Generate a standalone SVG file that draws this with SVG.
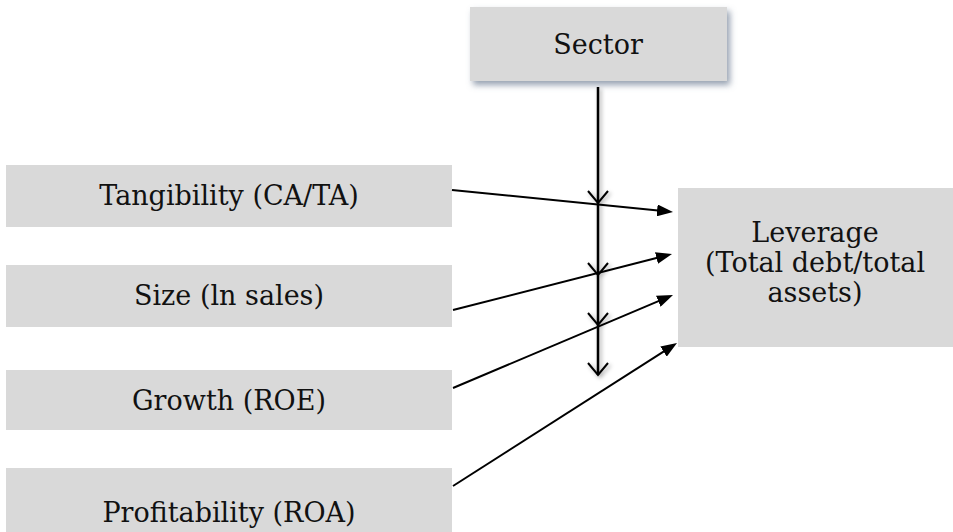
<svg xmlns="http://www.w3.org/2000/svg" width="953" height="532" viewBox="0 0 953 532">
<defs>
<style>
.box{fill:#d9d9d9}
.lbl{font-family:'DejaVu Serif','Liberation Serif',serif;font-size:27px;fill:#111;text-anchor:middle}
.conn{stroke:#000;stroke-width:2;fill:none}
.vhead{stroke:#000;stroke-width:2;fill:none;stroke-linejoin:miter}
</style>
<filter id="shadow" x="-10%" y="-20%" width="130%" height="160%">
<feDropShadow dx="3" dy="4" stdDeviation="3" flood-color="#6b7a90" flood-opacity="0.7"/>
</filter>
<filter id="lshadow" x="-200%" y="-5%" width="500%" height="110%">
<feDropShadow dx="2" dy="2" stdDeviation="2" flood-color="#000" flood-opacity="0.35"/>
</filter>
<marker id="arr" viewBox="0 0 16 12" refX="6" refY="6" markerWidth="16" markerHeight="12" markerUnits="userSpaceOnUse" orient="auto">
<path d="M0,0 L16,6 L0,12 z" fill="#000"/>
</marker>
</defs>
<g id="sector">
<rect class="box" x="470" y="7" width="257" height="74" filter="url(#shadow)"/>
<text class="lbl" x="598" y="54">Sector</text>
</g>
<g id="tangibility">
<rect class="box" x="6" y="165" width="446" height="62"/>
<text class="lbl" x="229" y="205">Tangibility (CA/TA)</text>
</g>
<g id="size">
<rect class="box" x="6" y="265" width="446" height="62"/>
<text class="lbl" x="229" y="305">Size (ln sales)</text>
</g>
<g id="growth">
<rect class="box" x="6" y="370" width="446" height="60"/>
<text class="lbl" x="229" y="410">Growth (ROE)</text>
</g>
<g id="profitability">
<rect class="box" x="6" y="468" width="446" height="64"/>
<text class="lbl" x="229" y="522">Profitability (ROA)</text>
</g>
<g id="leverage">
<rect class="box" x="678" y="188" width="275" height="159"/>
<text class="lbl" x="815" y="242">Leverage</text>
<text class="lbl" x="815" y="272">(Total debt/total</text>
<text class="lbl" x="815" y="302">assets)</text>
</g>
<g id="connectors">
<g filter="url(#lshadow)">
<line x1="598" y1="87" x2="598" y2="375" stroke="#000" stroke-width="2.5"/>
<polyline class="vhead" points="588,191 598,203 608,191"/>
<polyline class="vhead" points="588,263 598,275 608,263"/>
<polyline class="vhead" points="588,313 598,325 608,313"/>
<polyline class="vhead" points="588,363 598,375 608,363"/>
</g>
<line class="conn" x1="452" y1="190" x2="663.05" y2="211" marker-end="url(#arr)"/>
<line class="conn" x1="453" y1="310" x2="662.3" y2="256.5" marker-end="url(#arr)"/>
<line class="conn" x1="453" y1="388" x2="663.8" y2="298.9" marker-end="url(#arr)"/>
<line class="conn" x1="453" y1="486" x2="668.6" y2="348.4" marker-end="url(#arr)"/>
</g>
</svg>
